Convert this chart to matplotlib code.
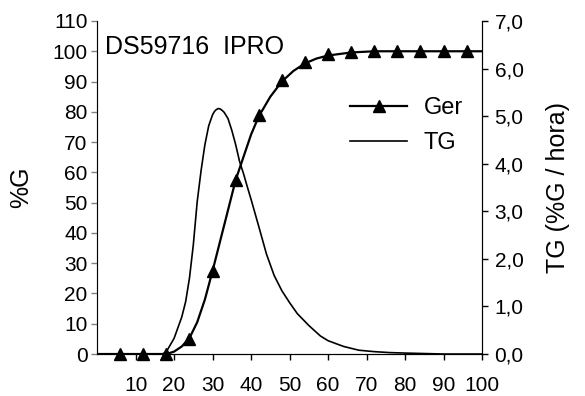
import matplotlib
matplotlib.use("Agg")
import matplotlib.pyplot as plt
from matplotlib.lines import Line2D
from matplotlib.ticker import FuncFormatter

plt.rcParams["font.family"] = ["Liberation Sans", "DejaVu Sans"]

# germination points (every 6 h)
hours = [6, 12, 18, 24, 30, 36, 42, 48, 54, 60, 66, 72, 78, 84, 90, 96]
ger = [0, 0, 0, 5, 27.5, 57.5, 79, 90.5, 96.5, 99, 99.8, 100, 100, 100, 100, 100]

# fitted germination curve
fit_hours = [0, 18, 20, 22, 24, 26, 28, 30, 32, 34, 36, 38, 40, 42, 45, 48,
             51, 54, 57, 60, 66, 72, 100]
fit_ger = [0, 0, 0.8, 2.5, 5.3, 10.5, 18, 27.5, 37.5, 47.5, 57.5, 65, 72.5,
           78.5, 85, 90, 93.5, 96, 97.6, 98.6, 99.6, 100, 100]

# germination rate curve (right axis)
tg_hours = [0, 10, 17, 18, 20, 22, 23, 24, 25, 26, 27, 28, 29, 30, 30.5, 31,
            31.5, 32, 32.5, 33, 34, 35, 36, 37, 38, 39, 40, 42, 44, 46, 48,
            50, 52, 55, 58, 60, 64, 68, 72, 76, 80, 90, 100]
tg = [0, 0, 0, 0.05, 0.33, 0.78, 1.1, 1.6, 2.3, 3.2, 3.85, 4.4, 4.8, 5.03,
      5.1, 5.14, 5.16, 5.15, 5.12, 5.08, 4.95, 4.7, 4.4, 4.05, 3.8, 3.52,
      3.25, 2.68, 2.1, 1.65, 1.33, 1.08, 0.85, 0.6, 0.38, 0.28, 0.16, 0.08,
      0.05, 0.03, 0.02, 0.0, 0.0]

fig = plt.figure(figsize=(5.85, 3.96), dpi=100)
ax = fig.add_axes([0.166, 0.106, 0.658, 0.841])
ax2 = ax.twinx()

ax.plot(fit_hours, fit_ger, color="black", lw=1.6, zorder=3)
ax.plot(hours, ger, ls="none", marker="^", ms=8, color="black",
        clip_on=False, zorder=4)
ax2.plot(tg_hours, tg, color="black", lw=1.2)

ax.set_xlim(0, 100)
ax.set_ylim(0, 110)
ax2.set_ylim(0, 7)
ax.set_xticks(range(10, 101, 10))
ax.set_yticks(range(0, 111, 10))
ax2.set_yticks([0, 1, 2, 3, 4, 5, 6, 7])
ax2.yaxis.set_major_formatter(FuncFormatter(lambda v, p: f"{v:.1f}".replace(".", ",")))

for a in (ax, ax2):
    a.spines["top"].set_visible(False)
    a.tick_params(labelsize=15, length=4, width=1, direction="out")
ax.spines["left"].set_color("#808080")
ax.tick_params(axis="y", color="#808080", pad=3)
ax.tick_params(axis="x", pad=12)
ax2.tick_params(axis="y", pad=5)

ax.set_ylabel("%G", fontsize=18, labelpad=14)
ax2.set_ylabel("TG (%G / hora)", fontsize=18, labelpad=16)

ax.text(2, 101.5, "DS59716  IPRO", fontsize=18, va="center", ha="left")

handles = [Line2D([], [], color="black", lw=1.6, marker="^", ms=8),
           Line2D([], [], color="black", lw=1.2)]
ax.legend(handles, ["Ger", "TG"], loc="upper right", bbox_to_anchor=(1.005, 0.835),
          frameon=False, fontsize=17, handlelength=2.4, handletextpad=0.7,
          labelspacing=0.55)

fig.savefig("out.png", dpi=100)
